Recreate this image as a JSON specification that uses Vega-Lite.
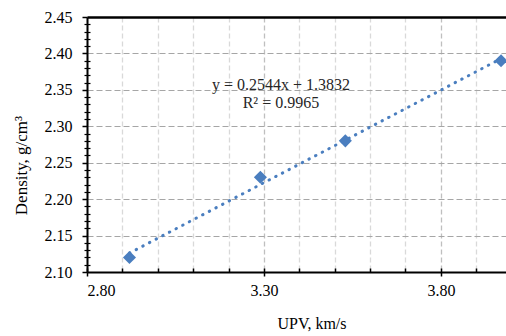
{
  "$schema": "https://vega.github.io/schema/vega-lite/v6.json",
  "width": 419,
  "height": 255,
  "autosize": {"type": "none"},
  "padding": {"left": 87, "top": 17, "right": 0, "bottom": 64},
  "background": "white",
  "config": {
    "view": {"stroke": null},
    "font": "Liberation Serif",
    "axis": {"labelFont": "Liberation Serif", "titleFont": "Liberation Serif", "labelColor": "#000", "titleColor": "#000", "labelFontSize": 16, "titleFontSize": 16, "titleFontWeight": "normal", "tickColor": "#000", "domainColor": "#000"}
  },
  "datasets": {
    "pts": [
      {"upv": 2.92, "density": 2.12},
      {"upv": 3.29, "density": 2.23},
      {"upv": 3.53, "density": 2.28},
      {"upv": 3.97, "density": 2.39}
    ]
  },
  "layer": [
    {
      "data": {"name": "pts"},
      "transform": [{"regression": "density", "on": "upv"}],
      "mark": {"type": "line", "color": "#4a7ebf", "strokeWidth": 3, "strokeDash": [0.5, 7], "strokeCap": "round"},
      "encoding": {
        "x": {"field": "upv", "type": "quantitative", "scale": {"domain": [2.8, 3.984], "nice": false, "zero": false},
          "axis": {"orient": "bottom", "values": [2.9, 3.0, 3.1, 3.2, 3.4, 3.5, 3.6, 3.7, 3.9], "labels": false, "domain": false, "title": null, "grid": true, "gridColor": "#d9d9d9", "gridDash": [5, 3], "gridWidth": 1.3, "ticks": true, "tickSize": -4, "tickWidth": 1.5}},
        "y": {"field": "density", "type": "quantitative", "scale": {"domain": [2.1, 2.45], "nice": false, "zero": false},
          "axis": {"orient": "left", "values": [2.11, 2.12, 2.13, 2.14, 2.16, 2.17, 2.18, 2.19, 2.21, 2.22, 2.23, 2.24, 2.26, 2.27, 2.28, 2.29, 2.31, 2.32, 2.33, 2.34, 2.36, 2.37, 2.38, 2.39, 2.41, 2.42, 2.43, 2.44], "labels": false, "domain": false, "title": null, "grid": false, "ticks": true, "tickSize": 3, "tickWidth": 1.2}}
      }
    },
    {
      "data": {"name": "pts"},
      "mark": {"type": "point", "shape": "diamond", "filled": true, "size": 170, "color": "#4a7ebf", "opacity": 1},
      "encoding": {
        "x": {"field": "upv", "type": "quantitative", "scale": {"domain": [2.8, 3.984], "nice": false, "zero": false},
          "axis": {"orient": "bottom", "values": [2.8, 3.3, 3.8], "format": ".2f", "title": "UPV, km/s", "titleX": 224.5, "titleY": 56, "titleBaseline": "alphabetic", "grid": true, "gridColor": "#bfbfbf", "gridDash": [5, 3], "gridWidth": 1.3, "domainWidth": 2, "tickSize": 4, "tickWidth": 1.5, "labelPadding": 6}},
        "y": {"field": "density", "type": "quantitative", "scale": {"domain": [2.1, 2.45], "nice": false, "zero": false},
          "axis": {"orient": "left", "values": [2.1, 2.15, 2.2, 2.25, 2.3, 2.35, 2.4, 2.45], "format": ".2f", "title": "Density, g/cm³", "titleX": -65.5, "titleY": 148, "titleAngle": -90, "titleBaseline": "middle", "titleAlign": "center", "titleFontSize": 17, "grid": true, "gridColor": "#a6a6a6", "gridDash": [6, 3], "gridWidth": 1.2, "domainWidth": 2, "tickSize": 5, "tickWidth": 1.5, "labelPadding": 10}}
      }
    },
    {
      "data": {"name": "pts"},
      "mark": {"type": "point", "opacity": 0},
      "encoding": {
        "x": {"field": "upv", "type": "quantitative", "scale": {"domain": [2.8, 3.984], "nice": false, "zero": false},
          "axis": {"orient": "bottom", "values": [2.8, 3.3, 3.8], "labels": false, "domain": false, "title": null, "grid": false, "tickSize": -4, "tickWidth": 1.5}},
        "y": {"field": "density", "type": "quantitative", "scale": {"domain": [2.1, 2.45], "nice": false, "zero": false},
          "axis": {"orient": "left", "values": [2.11, 2.12, 2.13, 2.14, 2.16, 2.17, 2.18, 2.19, 2.21, 2.22, 2.23, 2.24, 2.26, 2.27, 2.28, 2.29, 2.31, 2.32, 2.33, 2.34, 2.36, 2.37, 2.38, 2.39, 2.41, 2.42, 2.43, 2.44], "labels": false, "domain": false, "title": null, "grid": false, "tickSize": -3, "tickWidth": 1.2}}
      }
    },
    {
      "data": {"values": [{}]},
      "mark": {"type": "text", "text": ["y = 0.2544x + 1.3832", "R² = 0.9965"], "font": "Liberation Serif", "fontSize": 16, "color": "#262626", "align": "center", "baseline": "middle", "lineHeight": 18},
      "encoding": {
        "x": {"datum": 3.348, "type": "quantitative", "scale": {"domain": [2.8, 3.984], "nice": false, "zero": false},
          "axis": {"orient": "top", "labels": false, "ticks": false, "grid": false, "title": null, "domain": true, "domainWidth": 2.5, "domainColor": "#000"}},
        "y": {"datum": 2.357, "type": "quantitative", "scale": {"domain": [2.1, 2.45], "nice": false, "zero": false}, "axis": null}
      }
    }
  ],
  "resolve": {"axis": {"x": "independent", "y": "independent"}}
}
